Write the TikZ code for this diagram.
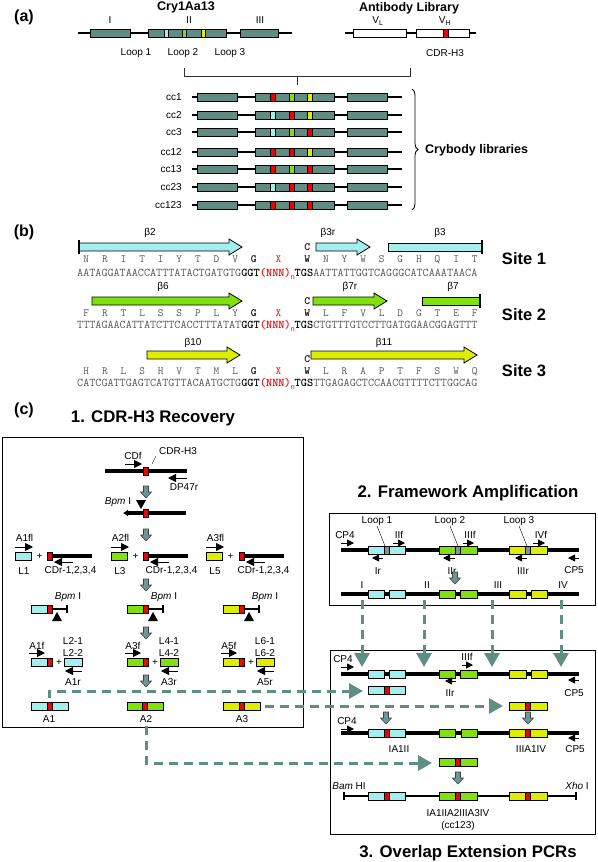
\documentclass[tikz,border=0pt]{standalone}
\usepackage{fontspec}
\setmainfont{Liberation Sans}
\usetikzlibrary{arrows.meta,decorations.pathreplacing}

\definecolor{crygrey}{RGB}{96,140,132}
\definecolor{loopcyan}{RGB}{165,238,238}
\definecolor{loopgreen}{RGB}{128,224,16}
\definecolor{loopyellow}{RGB}{222,238,0}
\definecolor{cdrred}{RGB}{240,0,0}
\definecolor{loopgrey}{RGB}{128,150,150}
\definecolor{dashteal}{RGB}{94,142,132}
\definecolor{fatteal}{RGB}{110,150,150}
\definecolor{seqgrey}{RGB}{85,85,85}

% domain boxes and inserts
\newcommand{\crybox}[4]{\draw[box,fill=#4] ({#1},{#3-4}) rectangle ({#2},{#3+4});}
\newcommand{\fusebox}[5]{\crybox{#1}{#2}{#3}{#4}\crybox{(#1+#2)/2-2.5}{(#1+#2)/2+2.5}{#3}{#5}}
\newcommand{\fatdown}[2]{\draw[fatarr] ({#1-2.5},{#2-6}) -- ({#1+2.5},{#2-6}) -- ({#1+2.5},{#2}) -- ({#1+5.5},{#2}) -- ({#1},{#2+6}) -- ({#1-5.5},{#2}) -- ({#1-2.5},{#2}) -- cycle;}
% beta strands
\newcommand{\strand}[4]{\draw[strandline,fill=#4] ({#1},{#3-4}) -- ({#2-13},{#3-4}) -- ({#2-13},{#3-8}) -- ({#2},{#3}) -- ({#2-13},{#3+8}) -- ({#2-13},{#3+4}) -- ({#1},{#3+4}) -- cycle;}
\newcommand{\strandbar}[4]{\draw[strandline,fill=#4] ({#1},{#3-4}) rectangle ({#2},{#3+4}); \draw[line width=1.3pt] ({#2},{#3-7}) -- ({#2},{#3+7});}
% sequences
\newcommand{\aminorow}[5]{%
  \foreach \a [count=\i from 0] in {#4}{\node[aa] (#1l\i) at ({77+6.2*(3*\i+1.5)},#3) {\a};}
  \node[aab] (#1g) at (253.7,#3) {G};
  \node[aa,text=cdrred] (#1x) at (278.5,#3) {X};
  \node[aab] (#1w) at (307.3,#3) {W};
  \node[aab] (#1c) at (307.3,#2) {C};
  \foreach \a [count=\i from 0] in {#5}{\node[aa] (#1r\i) at ({81+6.2*(39.5+3*\i)},#3) {\a};}
}
\newcommand{\dnarow}[4]{\node[dna] (#1) at (77,#2) {#3\textcolor{black}{\textbf{GGT}}\textcolor{cdrred}{\textbf{(NNN)}\raisebox{-3pt}{\rmfamily\fontsize{7}{7}\selectfont n}}\textcolor{black}{\textbf{TGS}}#4};}

\begin{document}
\begin{tikzpicture}[x=1pt, y=-1pt,
    every node/.style={font=\fontsize{10}{12}\selectfont, inner sep=0pt},
    hdr/.style={font=\bfseries\fontsize{12.5}{14}\selectfont},
    panel/.style={font=\bfseries\fontsize{16}{18}\selectfont},
    big/.style={font=\bfseries\fontsize{16.8}{19}\selectfont},
    aa/.style={anchor=base, font=\ttfamily\fontsize{11}{12}\selectfont, text=seqgrey},
    aab/.style={aa, font=\ttfamily\bfseries\fontsize{11}{12}\selectfont, text=black},
    dna/.style={anchor=base west, font=\ttfamily\fontsize{11.8}{13}\selectfont, text=seqgrey},
    gene/.style={line width=1.3pt},
    dnaline/.style={line width=3.2pt},
    box/.style={draw=black, line width=0.7pt},
    boxframe/.style={line width=1pt},
    strandline/.style={draw=black, line width=0.8pt},
    primer/.style={line width=0.9pt, -{Triangle[length=8pt,width=8pt]}},
    sprimer/.style={line width=0.9pt, -{Triangle[length=7pt,width=7pt]}},
    fatarr/.style={draw=black!75, fill=fatteal, line width=0.6pt},
    dasharr/.style={draw=dashteal, line width=3pt, dash pattern=on 9pt off 6pt, -{Triangle[length=14pt,width=15pt,fill=dashteal]}}
  ]
  \useasboundingbox (0,0) rectangle (597,862);

  % (a)
  \node[panel] (pa) at (24,17) {(a)};
  \node[hdr] (cry) at (186,7) {Cry1Aa13};
  \node (domI) at (110,20) {I};
  \node (domII) at (189,20) {II};
  \node (domIII) at (260,20) {III};
  \draw[gene] (78,33) -- (292,33);
  \crybox{90}{130}{33}{crygrey}
  \crybox{148}{226}{33}{crygrey}
  \crybox{240}{278}{33}{crygrey}
  \crybox{164}{168}{33}{loopcyan}
  \crybox{182}{186}{33}{loopgreen}
  \crybox{201}{205}{33}{loopyellow}
  \node (loopa1) at (136,53) {Loop 1};
  \node (loopa2) at (183,53) {Loop 2};
  \node (loopa3) at (230,53) {Loop 3};
  \node[hdr] (ablib) at (409,8) {Antibody Library};
  \node (vl) at (378,21) {V\textsubscript{L}};
  \node (vh) at (445,21) {V\textsubscript{H}};
  \draw[gene] (345,33) -- (476,33);
  \crybox{353}{406}{33}{white}
  \crybox{416}{469}{33}{white}
  \crybox{443}{448}{33}{cdrred}
  \node (cdrh3a) at (445,53) {CDR-H3};
  \draw[line width=0.8pt, black!80] (184,68) -- (184,76) -- (410,76) -- (410,68);
  \draw[line width=0.8pt, black!80] (297,76) -- (297,85);
  \foreach \y/\nm/\ca/\cb/\cc in {97/cc1/cdrred/loopgreen/loopyellow,
      115/cc2/loopcyan/cdrred/loopyellow, 132/cc3/loopcyan/loopgreen/cdrred,
      152/cc12/cdrred/cdrred/loopyellow, 169/cc13/cdrred/loopgreen/cdrred,
      187/cc23/loopcyan/cdrred/cdrred, 205/cc123/cdrred/cdrred/cdrred}{
    \node[anchor=east] (\nm) at (182,\y) {\nm};
    \draw[gene] (192,\y) -- (402,\y);
    \crybox{197}{237}{\y}{crygrey}
    \crybox{255}{334}{\y}{crygrey}
    \crybox{347}{387}{\y}{crygrey}
    \crybox{270}{275}{\y}{\ca}
    \crybox{289}{294}{\y}{\cb}
    \crybox{307}{312}{\y}{\cc}
  }
  \draw[line width=0.8pt, decorate, decoration={brace, amplitude=6pt}] (412,89) -- (412,210);
  \node[hdr, anchor=west] (crybody) at (425,150) {Crybody libraries};

  % (b)
  \node[panel] (pb) at (24,232) {(b)};
  \strand{79}{242}{247}{loopcyan}
  \draw[line width=1.3pt] (79,240) -- (79,254);
  \strand{316}{370}{247}{loopcyan}
  \strandbar{388}{482}{247}{loopcyan}
  \strand{92}{242}{301}{loopgreen}
  \strand{313}{387}{301}{loopgreen}
  \strandbar{422}{480}{301}{loopgreen}
  \strand{147}{240}{355}{loopyellow}
  \strand{311}{477}{355}{loopyellow}
  \node (b2) at (150,233) {β2};
  \node (b3r) at (328,233) {β3r};
  \node (b3) at (440,233) {β3};
  \node (b6) at (163,287) {β6};
  \node (b7r) at (350,287) {β7r};
  \node (b7) at (453,287) {β7};
  \node (b10) at (193,343) {β10};
  \node (b11) at (384,343) {β11};
  \aminorow{sa}{250.5}{262.5}{N,R,I,T,I,Y,T,D,V}{N,Y,W,S,G,H,Q,I,T}
  \dnarow{dnaa}{276.5}{AATAGGATAACCATTTATACTGATGTG}{AATTATTGGTCAGGGCATCAAATAACA}
  \aminorow{sb}{304.5}{316.5}{F,R,T,L,S,S,P,L,Y}{L,F,V,L,D,G,T,E,F}
  \dnarow{dnab}{328.5}{TTTAGAACATTATCTTCACCTTTATAT}{CTGTTTGTCCTTGATGGAACGGAGTTT}
  \aminorow{sc}{362.5}{374.5}{H,R,L,S,H,V,T,M,L}{L,R,A,P,T,F,S,W,Q}
  \dnarow{dnac}{386.5}{CATCGATTGAGTCATGTTACAATGCTG}{TTGAGAGCTCCAACGTTTTCTTGGCAG}
  \node[font=\bfseries\fontsize{16.5}{18}\selectfont] (site1) at (524,259) {Site 1};
  \node[font=\bfseries\fontsize{16.5}{18}\selectfont] (site2) at (524,315) {Site 2};
  \node[font=\bfseries\fontsize{16.5}{18}\selectfont] (site3) at (524,371) {Site 3};

  % (c) step 1
  \node[panel] (pc) at (24,410) {(c)};
  \node[big] (step1) at (153,418) {1. CDR-H3 Recovery};
  \draw[boxframe] (2,437) rectangle (303,727);
  \draw[dnaline] (105,471) -- (187,471);
  \crybox{143}{148}{471}{cdrred}
  \draw[primer] (125,464) -- (142,464);
  \node (cdf) at (133,456) {CDf};
  \node (cdrh3c) at (178,451) {CDR-H3};
  \draw[thin] (152,464) -- (156,456);
  \draw[primer] (187,478) -- (168,478);
  \node (dp47r) at (184,487) {DP47r};
  \fatdown{146}{492}
  \node (bpm0) at (118,502) {\itshape Bpm\upshape\ I};
  \draw[dnaline, {Latex[length=5pt,width=7pt]}-] (123,513) -- (186,513);
  \crybox{143}{148}{513}{cdrred}
  \fill (136,500) -- (146,500) -- (141,509) -- cycle;
  \fatdown{146}{535}
  \foreach \x/\c/\fl/\ll/\xr/\lx [count=\i] in {15/loopcyan/A1fl/L1/47/70.5,
      111/loopgreen/A2fl/L3/143/171.5, 206/loopyellow/A3fl/L5/239/263.5}{
    \crybox{\x}{\x+16}{556}{\c}
    \draw[primer] (\x,547) -- (\x+18,547);
    \node (fl\i) at (\x+9.5,538) {\fl};
    \node (lib\i) at (\x+9,571) {\ll};
    \node (plus\i) at (\x+24.5,557) {+};
    \draw[dnaline] (\xr+5,556) -- (\xr+45,556);
    \crybox{\xr}{\xr+5}{556}{cdrred}
    \draw[primer] (\xr+26,562) -- (\xr+7,562);
    \node (cdr\i) at (\lx,571) {CDr-1,2,3,4};
  }
  \fatdown{146}{585}
  \foreach \x/\c/\bx [count=\i] in {31/loopcyan/68, 127/loopgreen/164, 223/loopyellow/265}{
    \node (bpm\i) at (\bx,597) {\itshape Bpm\upshape\ I};
    \draw[line width=2pt, -{Bar[width=8pt]}] (\x+21,609) -- (\x+37,609);
    \crybox{\x}{\x+16}{609}{\c}
    \crybox{\x+16}{\x+21}{609}{cdrred}
    \fill (\x+26,612) -- (\x+31,621) -- (\x+21,621) -- cycle;
  }
  \fatdown{146}{633}
  \foreach \x/\c/\f/\la/\lb/\r [count=\i] in {31/loopcyan/A1f/L2-1/L2-2/A1r,
      127/loopgreen/A3f/L4-1/L4-2/A3r, 223/loopyellow/A5f/L6-1/L6-2/A5r}{
    \node (fwd\i) at (\x+6,646) {\f};
    \crybox{\x}{\x+16}{662}{\c}
    \crybox{\x+16}{\x+21}{662}{cdrred}
    \draw[primer] (\x-2,653) -- (\x+14,653);
    \node (add\i) at (\x+28,663) {+};
    \crybox{\x+33}{\x+51}{662}{\c}
    \node (la\i) at (\x+42,641) {\la};
    \node (lb\i) at (\x+42,653) {\lb};
    \draw[primer] (\x+51,671) -- (\x+34,671);
    \node (rev\i) at (\x+42,682) {\r};
  }
  \fatdown{146}{681}
  \fusebox{31}{68}{706}{loopcyan}{cdrred}
  \fusebox{127}{163}{706}{loopgreen}{cdrred}
  \fusebox{223}{260}{706}{loopyellow}{cdrred}
  \node (a1) at (49,719) {A1};
  \node (a2) at (146,719) {A2};
  \node (a3) at (242,719) {A3};

  % step 2
  \node[big] (step2) at (468,493) {2. Framework Amplification};
  \draw[boxframe] (329,513) rectangle (595,605);
  \draw[dnaline] (341,550) -- (579,550);
  \fusebox{368}{405}{550}{loopcyan}{loopgrey}
  \fusebox{439}{477}{550}{loopgreen}{loopgrey}
  \fusebox{509}{547}{550}{loopyellow}{loopgrey}
  \foreach \x/\t [count=\i] in {377/Loop 1, 450/Loop 2, 519/Loop 3}{
    \node (fwloop\i) at (\x,521) {\t};
    \draw[thin] (\x,526) -- (\x+8,546);
  }
  \draw[sprimer] (341,543) -- (354,543);
  \node (cp4a) at (345,535) {CP4};
  \draw[sprimer] (393,543) -- (405,543);
  \node (iif) at (399,535) {IIf};
  \draw[sprimer] (463,543) -- (474,543);
  \node (iiifa) at (470,535) {IIIf};
  \draw[sprimer] (533,543) -- (545,543);
  \node (ivf) at (541,535) {IVf};
  \draw[sprimer] (383,558) -- (372,558);
  \node (ir) at (378,571) {Ir};
  \draw[sprimer] (455,558) -- (443,558);
  \node (iira) at (452,571) {IIr};
  \draw[sprimer] (527,558) -- (515,558);
  \node (iiir) at (523,571) {IIIr};
  \draw[sprimer] (579,558) -- (568,558);
  \node (cp5a) at (574,570) {CP5};
  \fatdown{455}{578}
  \node (fr1) at (362,585) {I};
  \node (fr2) at (427,585) {II};
  \node (fr3) at (498,585) {III};
  \node (fr4) at (563,585) {IV};
  \draw[dnaline] (341,594) -- (579,594);
  \foreach \xa/\xb/\c in {368/384/loopcyan, 389/405/loopcyan, 439/455/loopgreen,
      460/477/loopgreen, 509/526/loopyellow, 531/547/loopyellow}{
    \crybox{\xa}{\xb}{594}{\c}
  }

  % step 3
  \node[big] (step3) at (468,853) {3. Overlap Extension PCRs};
  \draw[boxframe] (330,650) rectangle (595,834);
  \draw[dnaline] (341,674) -- (579,674);
  \foreach \xa/\xb/\c in {368/384/loopcyan, 389/405/loopcyan, 439/455/loopgreen,
      460/477/loopgreen, 509/526/loopyellow, 531/547/loopyellow}{
    \crybox{\xa}{\xb}{674}{\c}
  }
  \draw[sprimer] (341,667) -- (354,667);
  \node (cp4b) at (343,659) {CP4};
  \draw[sprimer] (462,665) -- (473,665);
  \node (iiifb) at (467,657) {IIIf};
  \draw[sprimer] (456,681) -- (445,681);
  \node (iirb) at (450,693) {IIr};
  \draw[sprimer] (579,680) -- (568,680);
  \node (cp5b) at (574,693) {CP5};
  \fusebox{368}{405}{690}{loopcyan}{cdrred}
  \fusebox{509}{547}{706}{loopyellow}{cdrred}
  \fatdown{386}{718}
  \fatdown{528}{718}
  \draw[dnaline] (341,733) -- (579,733);
  \fusebox{368}{405}{733}{loopcyan}{cdrred}
  \crybox{439}{455}{733}{loopgreen}
  \crybox{461}{477}{733}{loopgreen}
  \fusebox{509}{547}{733}{loopyellow}{cdrred}
  \draw[sprimer] (341,729) -- (354,729);
  \node (cp4c) at (347,721) {CP4};
  \draw[sprimer] (579,738) -- (568,738);
  \node (cp5c) at (575,749) {CP5};
  \node (ia1ii) at (399,749) {IA1II};
  \node (iiia1iv) at (531,749) {IIIA1IV};
  \fusebox{439}{477}{762}{loopgreen}{cdrred}
  \fatdown{458}{778}
  \draw[line width=1.8pt, {Bar[width=8pt]}-{Bar[width=8pt]}] (343,796) -- (577,796);
  \fusebox{368}{405}{796}{loopcyan}{cdrred}
  \fusebox{439}{477}{796}{loopgreen}{cdrred}
  \fusebox{509}{547}{796}{loopyellow}{cdrred}
  \node (bam) at (349,786) {\itshape Bam\upshape\ HI};
  \node (xho) at (577,786) {\itshape Xho\upshape\ I};
  \node (full) at (458,813) {IA1IIA2IIIA3IV};
  \node (cc123b) at (458,826) {(cc123)};

  % dashed transfers
  \coordinate (a1out) at (49,698);
  \coordinate (a1in) at (363,691);
  \coordinate (a3out) at (265,706);
  \coordinate (a3in) at (503,706);
  \coordinate (a2out) at (146,726);
  \coordinate (a2in) at (432,763);
  \draw[dasharr] (a1out) |- (a1in);
  \draw[dasharr] (a3out) -- (a3in);
  \draw[dasharr] (a2out) |- (a2in);
  \foreach \x [count=\i] in {362,424,492,561}{
    \coordinate (fwout\i) at (\x,600);
    \coordinate (fwin\i) at (\x,667);
    \draw[dasharr] (fwout\i) -- (fwin\i);
  }
\end{tikzpicture}
\end{document}
